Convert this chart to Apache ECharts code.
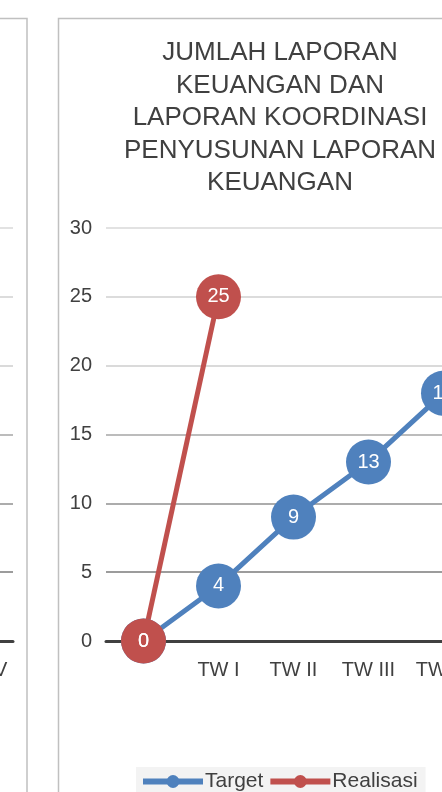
<!DOCTYPE html>
<html>
<head>
<meta charset="utf-8">
<script src="https://cdn.jsdelivr.net/npm/echarts@6/dist/echarts.min.js"></script>
<style>
  html, body { margin: 0; padding: 0; background: #fff; }
  #chart { width: 442px; height: 792px; }
</style>
</head>
<body>
<div id="chart"></div>
<script>
// kategori triwulan (kategori pertama kosong, titik awal 0)
var categories = ['', 'TW I', 'TW II', 'TW III', 'TW IV'];
var target = [0, 4, 9, 13, 18];
var realisasi = [0, 25, null, null, null];
var yTicks = { min: 0, max: 30, interval: 5 };

var font = 'Liberation Sans, Arial, Helvetica, sans-serif';
var textColor = '#404040';
var gridColors = ['#999', '#9c9c9c', '#acacac', '#bcbcbc', '#dadada', '#dcdcdc', '#e2e2e2'];

var chartDom = document.getElementById('chart');
var chart = echarts.getInstanceByDom(chartDom) || echarts.init(chartDom);

var option = {
    animation: false,
    backgroundColor: '#fff',
    textStyle: { fontFamily: font },
    title: {
        text: 'JUMLAH LAPORAN\nKEUANGAN DAN\nLAPORAN KOORDINASI\nPENYUSUNAN LAPORAN\nKEUANGAN',
        left: 280,
        top: 37,
        padding: 0,
        textAlign: 'center',
        textStyle: {
            fontFamily: font,
            fontWeight: 'normal',
            fontSize: 26,
            lineHeight: 32.5,
            color: textColor
        }
    },
    graphic: [
        // bingkai grafik kiri (terpotong)
        { type: 'rect', shape: { x: -20, y: 18.5, width: 47, height: 900 },
          style: { fill: 'none', stroke: '#c0c0c0', lineWidth: 1.5 }, z: -1 },
        // bingkai grafik kanan
        { type: 'rect', shape: { x: 58.5, y: 18.5, width: 500, height: 900 },
          style: { fill: 'none', stroke: '#c0c0c0', lineWidth: 1.5 }, z: -1 }
    ],
    legend: {
        data: ['Target', 'Realisasi'],
        left: 136,
        top: 767,
        padding: [4, 8, 8, 4],
        itemGap: 4,
        itemWidth: 60,
        itemHeight: 16,
        backgroundColor: '#f3f3f3',
        lineStyle: { width: 6 },
        textStyle: { fontFamily: font, fontSize: 21, color: textColor, padding: [0, 0, 0, -3] }
    },
    grid: [
        { left: 106, top: 228, bottom: 151, width: 375, outerBoundsMode: 'none', containLabel: false },
        { left: -322, top: 228, bottom: 151, width: 335, outerBoundsMode: 'none', containLabel: false }
    ],
    xAxis: [
        {
            type: 'category',
            gridIndex: 0,
            data: categories,
            boundaryGap: true,
            axisLine: { lineStyle: { color: textColor, width: 3 } },
            axisTick: { show: false },
            axisLabel: { interval: 0, color: textColor, fontSize: 20, margin: 19, fontFamily: font }
        },
        {
            type: 'category',
            gridIndex: 1,
            data: categories,
            boundaryGap: true,
            axisLine: { lineStyle: { color: textColor, width: 3 } },
            axisTick: { show: false },
            axisLabel: { interval: 0, color: textColor, fontSize: 20, margin: 19, fontFamily: font }
        }
    ],
    yAxis: [
        {
            type: 'value',
            gridIndex: 0,
            min: yTicks.min,
            max: yTicks.max,
            interval: yTicks.interval,
            axisLine: { show: false },
            axisTick: { show: false },
            axisLabel: { color: textColor, fontSize: 20, margin: 14, fontFamily: font },
            splitLine: { lineStyle: { color: gridColors, width: 2 } }
        },
        {
            type: 'value',
            gridIndex: 1,
            min: yTicks.min,
            max: yTicks.max,
            interval: yTicks.interval,
            axisLine: { show: false },
            axisTick: { show: false },
            axisLabel: { show: false },
            splitLine: { lineStyle: { color: gridColors, width: 2 } }
        }
    ],
    series: [
        {
            name: 'Target',
            type: 'line',
            xAxisIndex: 0,
            yAxisIndex: 0,
            data: target,
            symbol: 'circle',
            symbolSize: 45,
            showAllSymbol: true,
            lineStyle: { color: '#4f81bd', width: 5 },
            itemStyle: { color: '#4f81bd' },
            labelLayout: { hideOverlap: false },
            label: { show: true, position: 'inside', color: '#fff', fontSize: 20, fontFamily: font }
        },
        {
            name: 'Realisasi',
            type: 'line',
            xAxisIndex: 0,
            yAxisIndex: 0,
            data: realisasi,
            symbol: 'circle',
            symbolSize: 45,
            showAllSymbol: true,
            connectNulls: false,
            lineStyle: { color: '#c0504d', width: 5 },
            itemStyle: { color: '#c0504d' },
            label: { show: true, position: 'inside', color: '#fff', fontSize: 20, fontFamily: font }
        }
    ]
};

chart.setOption(option);
</script>
</body>
</html>
